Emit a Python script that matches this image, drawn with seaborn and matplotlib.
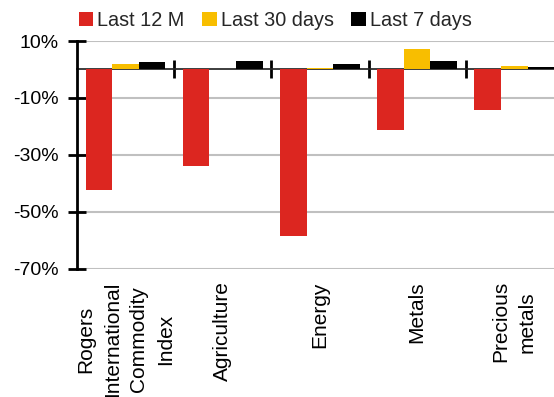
import matplotlib
matplotlib.use("Agg")
import matplotlib.pyplot as plt
from matplotlib.patches import Patch
import pandas as pd
import seaborn as sns

categories = ["Rogers\nInternational\nCommodity\nIndex", "Agriculture", "Energy",
              "Metals", "Precious\nmetals"]
series = ["Last 12 M", "Last 30 days", "Last 7 days"]
last_12m = [-42.2, -34.0, -58.4, -21.3, -14.3]
last_30d = [1.9, 0.0, 0.6, 7.1, 1.2]
last_7d = [2.5, 2.9, 1.9, 2.9, 0.7]
colors = ["#dc2620", "#f8be00", "#000000"]
yticks = [10, -10, -30, -50, -70]

df = pd.DataFrame({
    "category": categories * 3,
    "series": [s for s in series for _ in categories],
    "value": last_12m + last_30d + last_7d,
})

sns.set_theme(style="white")
plt.rcParams["font.family"] = ["Liberation Sans", "DejaVu Sans"]

fig = plt.figure(figsize=(5.54, 3.97), dpi=100)
ax = fig.add_axes([0.139, 0.3232, 0.877, 0.5735])

sns.barplot(data=df, x="category", y="value", hue="series", order=categories,
            hue_order=series, palette=colors, width=0.82, saturation=1,
            edgecolor="none", linewidth=0, legend=False, ax=ax)

ax.set_ylim(-70, 10)
ax.set_xlim(-0.5, len(categories) - 0.5)
ax.set_yticks(yticks)
ax.set_yticklabels([f"{v}%" for v in yticks])
ax.set_xlabel("")
ax.set_ylabel("")

# grid lines in light grey, drawn behind the bars
for v in yticks:
    ax.axhline(v, color="#c0c0c0", lw=1.5, zorder=0)
ax.set_axisbelow(True)

for side in ["top", "right", "bottom"]:
    ax.spines[side].set_visible(False)
ax.spines["left"].set_color("black")
ax.spines["left"].set_linewidth(2)

ax.tick_params(axis="y", direction="inout", length=13, width=2, color="black",
               labelsize=14, pad=7, labelcolor="black", left=True)
ax.tick_params(axis="x", length=0, labelsize=15, pad=9, labelcolor="black")
for lab in ax.get_xticklabels():
    lab.set_rotation(90)
    lab.set_multialignment("center")
    lab.set_linespacing(1.5)

# zero line with separators between categories
zero_frac = (0 - (-70)) / 80
sec = ax.secondary_xaxis(zero_frac)
sec.set_xticks([i + 0.5 for i in range(len(categories) - 1)])
sec.set_xticklabels([])
sec.tick_params(axis="x", direction="inout", length=13, width=2, color="black")
sec.spines["bottom"].set_linewidth(2)
sec.spines["bottom"].set_color("black")

handles = [Patch(facecolor=c, edgecolor="none") for c in colors]
fig.legend(handles, series, loc="center left", bbox_to_anchor=(0.128, 0.948),
           ncol=3, frameon=False, fontsize=14.3, handlelength=0.72,
           handleheight=0.72, handletextpad=0.2, columnspacing=0.9,
           borderaxespad=0)

fig.savefig("out.png", dpi=100)
